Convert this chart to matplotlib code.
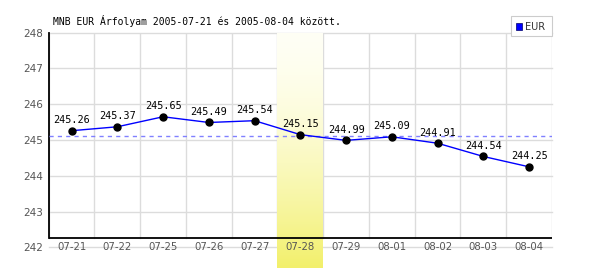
import numpy as np
import matplotlib
matplotlib.use("Agg")
import matplotlib.pyplot as plt
from matplotlib.patches import Rectangle

# data
dates = ["07-21", "07-22", "07-25", "07-26", "07-27", "07-28",
         "07-29", "08-01", "08-02", "08-03", "08-04"]
eur = [245.26, 245.37, 245.65, 245.49, 245.54, 245.15,
       244.99, 245.09, 244.91, 244.54, 244.25]
y_ticks = [242, 243, 244, 245, 246, 247, 248]
highlight = "07-28"
title = "MNB EUR Árfolyam 2005-07-21 és 2005-08-04 között."

W, H = 600, 270
fig = plt.figure(figsize=(W / 100, H / 100), dpi=100)
fig.patch.set_facecolor("white")

# axes box in pixels: left 48.7, right 552, top 32.7 (=248), bottom 268
left, right, top, bottom = 48.7, 552.0, 32.7, 268.0
ax = fig.add_axes([left / W, (H - bottom) / H, (right - left) / W, (bottom - top) / H])

px_per_unit = 35.77
y_low = 248 - (bottom - top) / px_per_unit
axis_y = 242.25

x = np.arange(len(dates))
x0, x1 = -0.5, len(dates) - 0.5

grid_c = "#dcdcdc"
# horizontal grid
for yv in y_ticks:
    ax.plot([x0, x1], [yv, yv], color=grid_c, lw=1.0, zorder=1, clip_on=False)
# vertical grid at category boundaries
for xb in np.arange(x0, x1 + 0.01, 1.0):
    ax.plot([xb, xb], [axis_y, 248], color=grid_c, lw=1.0, zorder=1)

# highlighted column with gradient
hi = dates.index(highlight)
t = np.linspace(0, 1, 256) ** 1.6
top_c = np.array([1.0, 1.0, 0.96])
bot_c = np.array([0.95, 0.94, 0.42])
img = top_c[None, :] + (bot_c - top_c)[None, :] * t[:, None]
ax.imshow(img.reshape(256, 1, 3), extent=[hi - 0.5, hi + 0.5, y_low, 248],
          aspect="auto", origin="upper", zorder=3)
ax.set_xlim(x0, x1)
ax.set_ylim(y_low, 248)

# black axis lines
ax.plot([x0, x1], [axis_y, axis_y], color="black", lw=1.3, zorder=4)
ax.plot([x0, x0], [axis_y, 248], color="black", lw=1.3, zorder=4, clip_on=False)

# mean line
ax.plot([x0, x1], [np.mean(eur)] * 2, color="#8080ff", lw=1.0,
        ls=(0, (3, 3)), zorder=4)

# series
ax.plot(x, eur, color="#0000ff", lw=1.0, zorder=5)
ax.plot(x, eur, "o", color="black", ms=5, zorder=6)
for xi, v in zip(x, eur):
    ax.annotate(f"{v:.2f}", (xi, v), xytext=(0, 7.5), textcoords="offset points",
                ha="center", va="center", fontsize=7.3, family="DejaVu Sans Mono",
                color="black", zorder=7)

# x labels sit on the 242 grid line
for xi, d in zip(x, dates):
    ax.text(xi, 242, d, ha="center", va="center", fontsize=7.3,
            color="#555555", zorder=7)

ax.set_xticks([])
ax.set_yticks(y_ticks)
ax.set_yticklabels([str(t) for t in y_ticks], fontsize=7.5, color="#555555")
ax.tick_params(axis="y", length=0, pad=4)
for s in ax.spines.values():
    s.set_visible(False)

fig.text(53 / W, 1 - 21 / H, title, ha="left", va="center", fontsize=7.0,
         family="DejaVu Sans Mono", color="black")

# legend
fig.add_artist(Rectangle((511 / W, 1 - 36 / H), 41 / W, 20 / H, transform=fig.transFigure,
                         facecolor="white", edgecolor="#cccccc", lw=0.8))
fig.add_artist(Rectangle((516 / W, 1 - 29.5 / H), 6 / W, 6 / H, transform=fig.transFigure,
                         facecolor="#0000ff", edgecolor="#000066", lw=0.5))
fig.text(524.5 / W, 1 - 26.5 / H, "EUR", ha="left", va="center", fontsize=7,
         color="#333333")

fig.savefig("out.png", dpi=100)
